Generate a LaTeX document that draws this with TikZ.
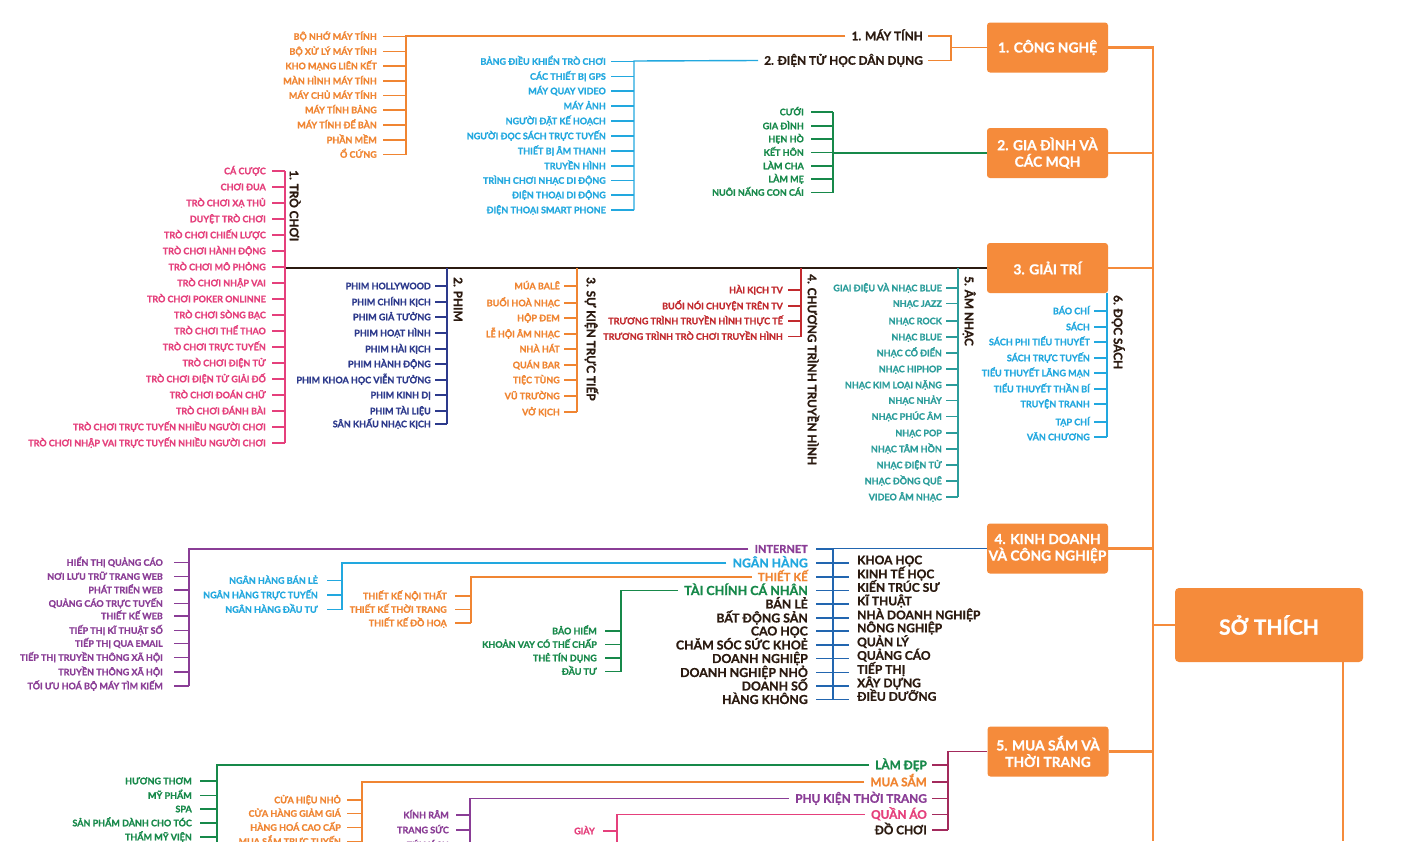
\documentclass[tikz,border=0pt]{standalone}
\usepackage{fontspec}
\setmainfont{Lato}[BoldFeatures={FakeBold=1}]
\newcommand\myfs[1]{\fontsize{#1}{#1}\selectfont\bfseries}
\definecolor{boxor}{HTML}{F58B3B}
\definecolor{orl}{HTML}{F08532}
\definecolor{bl}{HTML}{22A8DF}
\definecolor{gr}{HTML}{17894A}
\definecolor{pk}{HTML}{E5407C}
\definecolor{nv}{HTML}{2D3A8C}
\definecolor{rd}{HTML}{C22A2E}
\definecolor{tl}{HTML}{2B9D9B}
\definecolor{dk}{HTML}{2B1A10}
\definecolor{pu}{HTML}{8A3D96}
\definecolor{kb}{HTML}{2266B0}
\definecolor{cr}{HTML}{A32A5C}
\tikzset{
 lf/.style={inner sep=0pt, font=\myfs{9}, text height=6.5pt, text depth=0pt},
 hd/.style={inner sep=0pt, font=\myfs{11.8}, text height=8.5pt, text depth=0pt},
 kd/.style={inner sep=0pt, font=\myfs{12}, text height=8.6pt, text depth=0pt},
 stub/.style={line width=1.4pt},
 trunk/.style={line width=2.8pt, boxor},
 catbox/.style={fill=boxor, rounded corners=3pt, minimum width=121pt, minimum height=50pt, inner sep=0pt, text=white, font=\fontsize{13.8}{16.5}\selectfont\bfseries, align=center},
 rootbox/.style={fill=boxor, rounded corners=4pt, minimum width=188pt, minimum height=74pt, inner sep=0pt, text=white, font=\fontsize{21}{21}\selectfont\bfseries},
 rotlab/.style={inner sep=0pt, font=\myfs{11.8}, text height=8.5pt, text depth=0pt, rotate=-90, anchor=west, text=dk},
}
\newcommand\leaves[6]{%
 \foreach \yy/\tx [count=\i] in {#6}{%
  \node[lf, text=#2, anchor=east] (#1\i) at (#3,\yy) {\tx};
  \draw[stub, #2] (#1\i.east) ++({#4-#3},0) -- (#5,\yy);
 }}
\begin{document}
\begin{tikzpicture}[x=1pt,y=-1pt]
\useasboundingbox (0,0) rectangle (1402,841);
\clip (0,0) rectangle (1402,841);
\fill[white] (0,0) rectangle (1402,841);

% ---------- category boxes ----------
\node[catbox] (c1) at (1047.5,47.5) {1. CÔNG NGHỆ};
\node[catbox] (c2) at (1047.5,153) {2. GIA ĐÌNH VÀ\\CÁC MQH};
\node[catbox] (c3) at (1047.5,268) {3. GIẢI TRÍ};
\node[catbox] (c4) at (1047.5,548.5) {4. KINH DOANH\\VÀ CÔNG NGHIỆP};
\node[catbox] (c5) at (1048,751.5) {5. MUA SẮM VÀ\\THỜI TRANG};
\node[rootbox] (root) at (1269,625) {SỞ THÍCH};
\coordinate (tb) at (1153,841);
\coordinate (rb) at (1343,841);
\draw[trunk] (c1.east) -- (c1.east -| tb) -- (tb);
\draw[trunk] (c2.east) -- (c2.east -| tb);
\draw[trunk] (c3.east) -- (c3.east -| tb);
\draw[trunk] (c4.east) -- (c4.east -| tb);
\draw[trunk] (c5.east) -- (c5.east -| tb);
\draw[trunk] (root.west -| tb) -- (root.west);
\draw[trunk] (root.south -| rb) -- (rb);

% ---------- 1. CONG NGHE ----------
\node[hd, text=dk, anchor=east] (mt) at (923,36) {1. MÁY TÍNH};
\node[hd, text=dk, anchor=east] (dt) at (923,60.5) {2. ĐIỆN TỬ HỌC DÂN DỤNG};
\draw[stub, orl] ([xshift=5pt]mt.east) -- (951,36) -- (951,60.5) -- ([xshift=5pt]dt.east);
\draw[stub, orl] (951,47.5) -- (c1.west);
\draw[stub, orl] ([xshift=-6pt]mt.west) -- (406,36) -- (406,154.5);
\draw[stub, bl] ([xshift=-6pt]dt.west) -- (634,61) -- (634,210);
\leaves{mtl}{orl}{377}{383}{406}{36.5/BỘ NHỚ MÁY TÍNH, 51.5/BỘ XỬ LÝ MÁY TÍNH, 66/KHO MẠNG LIÊN KẾT, 81/MÀN HÌNH MÁY TÍNH, 95.5/MÁY CHỦ MÁY TÍNH, 110/MÁY TÍNH BẢNG, 125/MÁY TÍNH ĐỂ BÀN, 140/PHẦN MỀM, 154.5/Ổ CỨNG}
\leaves{dtl}{bl}{606}{611}{634}{61.5/BẢNG ĐIỀU KHIỂN TRÒ CHƠI, 76.5/CÁC THIẾT BỊ GPS, 91/MÁY QUAY VIDEO, 106/MÁY ẢNH, 121/NGƯỜI ĐẶT KẾ HOẠCH, 136/NGƯỜI ĐỌC SÁCH TRỰC TUYẾN, 151/THIẾT BỊ ÂM THANH, 166/TRUYỀN HÌNH, 180.5/TRÌNH CHƠI NHẠC DI ĐỘNG, 195/ĐIỆN THOẠI DI ĐỘNG, 210/ĐIỆN THOẠI SMART PHONE}

% ---------- 2. GIA DINH ----------
\draw[stub, gr] (c2.west) -- (833,153);
\draw[stub, gr] (833,112) -- (833,192.5);
\leaves{gd}{gr}{804}{811}{833}{112/CƯỚI, 126/GIA ĐÌNH, 139/HẸN HÒ, 152.5/KẾT HÔN, 166/LÀM CHA, 179/LÀM MẸ, 192.5/NUÔI NẤNG CON CÁI}

% ---------- 3. GIAI TRI ----------
\draw[line width=1.8pt, dk] (c3.west) -- (285,268);
\draw[stub, pk] (285,171) -- (285,443);
\draw[stub, nv] (447,268) -- (447,424);
\draw[stub, orl] (577,268) -- (577,412);
\draw[stub, rd] (801,268) -- (801,336.5);
\draw[stub, tl] (958,268) -- (958,497);
\draw[stub, bl] (1107,293) -- (1107,437);
\node[rotlab] (r1) at (294,170) {1. TRÒ CHƠI};
\node[rotlab] (r2) at (458,277) {2. PHIM};
\node[rotlab] (r3) at (591,277) {3. SỰ KIỆN TRỰC TIẾP};
\node[rotlab] (r4) at (812,274) {4. CHƯƠNG TRÌNH TRUYỀN HÌNH};
\node[rotlab] (r5) at (969,276) {5. ÂM NHẠC};
\node[rotlab] (r6) at (1118,295) {6. ĐỌC SÁCH};
\leaves{tc}{pk}{266}{272}{285}{171/CÁ CƯỢC, 187/CHƠI ĐUA, 203/TRÒ CHƠI XẠ THỦ, 219/DUYỆT TRÒ CHƠI, 235/TRÒ CHƠI CHIẾN LƯỢC, 251/TRÒ CHƠI HÀNH ĐỘNG, 267/TRÒ CHƠI MÔ PHỎNG, 283/TRÒ CHƠI NHẬP VAI, 299/TRÒ CHƠI POKER ONLINNE, 315/TRÒ CHƠI SÒNG BẠC, 331/TRÒ CHƠI THỂ THAO, 347/TRÒ CHƠI TRỰC TUYẾN, 363/TRÒ CHƠI ĐIỆN TỬ, 379/TRÒ CHƠI ĐIỆN TỬ GIẢI ĐỐ, 395/TRÒ CHƠI ĐOÁN CHỮ, 411/TRÒ CHƠI ĐÁNH BÀI, 427/TRÒ CHƠI TRỰC TUYẾN NHIỀU NGƯỜI CHƠI, 443/TRÒ CHƠI NHẬP VAI TRỰC TUYẾN NHIỀU NGƯỜI CHƠI}
\leaves{ph}{nv}{431}{435}{447}{286/PHIM HOLLYWOOD, 302/PHIM CHÍNH KỊCH, 317/PHIM GIẢ TƯỞNG, 333/PHIM HOẠT HÌNH, 349/PHIM HÀI KỊCH, 364/PHIM HÀNH ĐỘNG, 380/PHIM KHOA HỌC VIỄN TƯỞNG, 395/PHIM KINH DỊ, 411/PHIM TÀI LIỆU, 424/SÂN KHẤU NHẠC KỊCH}
\leaves{sk}{orl}{560}{564}{577}{286/MÚA BALÊ, 303/BUỔI HOÀ NHẠC, 318/HỘP ĐEM, 334/LỄ HỘI ÂM NHẠC, 349/NHÀ HÁT, 365/QUÁN BAR, 380/TIỆC TÙNG, 396/VŨ TRƯỜNG, 412/VỞ KỊCH}
\leaves{tv}{rd}{783}{788}{801}{290/HÀI KỊCH TV, 306/BUỔI NÓI CHUYỆN TRÊN TV, 321/TRƯƠNG TRÌNH TRUYỀN HÌNH THỰC TẾ, 336.5/TRƯƠNG TRÌNH TRÒ CHƠI TRUYỀN HÌNH}
\leaves{an}{tl}{942}{946}{958}{288/GIAI ĐIỆU VÀ NHẠC BLUE, 303.5/NHẠC JAZZ, 321/NHẠC ROCK, 337/NHẠC BLUE, 353/NHẠC CỔ ĐIỂN, 369/NHẠC HIPHOP, 385/NHẠC KIM LOẠI NẶNG, 400.5/NHẠC NHẢY, 416.5/NHẠC PHÚC ÂM, 433/NHẠC POP, 449/NHẠC TÂM HỒN, 465/NHẠC ĐIỆN TỬ, 481/NHẠC ĐỒNG QUÊ, 497/VIDEO ÂM NHẠC}
\leaves{ds}{bl}{1090}{1094}{1107}{311/BÁO CHÍ, 327/SÁCH, 342/SÁCH PHI TIỂU THUYẾT, 358/SÁCH TRỰC TUYẾN, 373/TIỂU THUYẾT LÃNG MẠN, 389/TIỂU THUYẾT THẦN BÍ, 404/TRUYỆN TRANH, 422/TẠP CHÍ, 437/VĂN CHƯƠNG}

% ---------- 4. KINH DOANH ----------
\draw[line width=1.8pt, kb] (c4.west) -- (833,548.5) -- (833,699.5);
\foreach \yy/\c/\f/\h/\tx [count=\i] in {549/pu/11/7.9/INTERNET, 563/bl/12.2/8.8/NGÂN HÀNG, 577/orl/11.5/8.3/THIẾT KẾ, 590.5/gr/12.5/9/TÀI CHÍNH CÁ NHÂN, 604/dk/12.3/8.9/BÁN LẺ, 618/dk/12.3/8.9/BẤT ĐỘNG SẢN, 631/dk/12.3/8.9/CAO HỌC, 645/dk/12.3/8.9/CHĂM SÓC SỨC KHOẺ, 658.5/dk/12.3/8.9/DOANH NGHIỆP, 672.5/dk/12.3/8.9/DOANH NGHIỆP NHỎ, 686/dk/12.3/8.9/DOANH SỐ, 699.5/dk/12.3/8.9/HÀNG KHÔNG}{%
 \node[inner sep=0pt, font=\myfs{\f}, text height=\h pt, text depth=0pt, text=\c, anchor=east] (kl\i) at (808,\yy) {\tx};
 \draw[stub, kb] (kl\i.east) ++(8,0) -- (833,\yy);
}
\foreach \yy/\tx [count=\i] in {563/KHOA HỌC, 577/KINH TẾ HỌC, 590.5/KIẾN TRÚC SƯ, 604/KĨ THUẬT, 618/NHÀ DOANH NGHIỆP, 631/NÔNG NGHIỆP, 645/QUẢN LÝ, 658.5/QUẢNG CÁO, 672.5/TIẾP THỊ, 686/XÂY DỰNG, 699.5/ĐIỀU DƯỠNG}{%
 \coordinate (kj\i) at (833,\yy);
 \node[kd, text=dk, anchor=west] (kr\i) at (857,\yy-3) {\tx};
 \draw[stub, kb] (kj\i) -- (849,\yy);
}
\draw[stub, pu] ([xshift=-6pt]kl1.west) -- (189,549) -- (189,686);
\draw[stub, bl] ([xshift=-6pt]kl2.west) -- (342,563) -- (342,609.5);
\draw[stub, orl] ([xshift=-6pt]kl3.west) -- (471,577) -- (471,623);
\draw[stub, gr] ([xshift=-6pt]kl4.west) -- (621,590.5) -- (621,671.5);
\leaves{qc}{pu}{163}{174}{189}{562.5/HIỂN THỊ QUẢNG CÁO, 576.5/NƠI LƯU TRỮ TRANG WEB, 590/PHÁT TRIỂN WEB, 603.5/QUẢNG CÁO TRỰC TUYẾN, 616/THIẾT KẾ WEB, 630.5/TIẾP THỊ KĨ THUẬT SỐ, 643.5/TIẾP THỊ QUA EMAIL, 657.5/TIẾP THỊ TRUYỀN THÔNG XÃ HỘI, 672/TRUYỀN THÔNG XÃ HỘI, 686/TỐI ƯU HOÁ BỘ MÁY TÌM KIẾM}
\leaves{nh}{bl}{318}{327}{342}{580.5/NGÂN HÀNG BÁN LẺ, 595/NGÂN HÀNG TRỰC TUYẾN, 609.5/NGÂN HÀNG ĐẦU TƯ}
\leaves{tk}{orl}{447}{455}{471}{596/THIẾT KẾ NỘI THẤT, 609.5/THIẾT KẾ THỜI TRANG, 623/THIẾT KẾ ĐỒ HOẠ}
\leaves{tn}{gr}{597}{605}{621}{631/BẢO HIỂM, 644.5/KHOẢN VAY CÓ THẾ CHẤP, 658/THẺ TÍN DỤNG, 671.5/ĐẦU TƯ}

% ---------- 5. MUA SAM ----------
\draw[stub, cr] (c5.west) -- (948,751.5) -- (948,830);
\foreach \yy/\c/\tx [count=\i] in {765/gr/LÀM ĐẸP, 782/orl/MUA SẮM, 798.5/pu/PHỤ KIỆN THỜI TRANG, 814.5/pk/QUẦN ÁO, 830/dk/ĐỒ CHƠI}{%
 \node[hd, text=\c, anchor=east] (ms\i) at (927,\yy) {\tx};
 \draw[stub, cr] (ms\i.east) ++(5,0) -- (948,\yy);
}
\draw[stub, gr] ([xshift=-6pt]ms1.west) -- (217,765) -- (217,850);
\draw[stub, orl] ([xshift=-6pt]ms2.west) -- (362,782) -- (362,850);
\draw[stub, pu] ([xshift=-6pt]ms3.west) -- (470,798.5) -- (470,850);
\draw[stub, pk] ([xshift=-6pt]ms4.west) -- (617,814.5) -- (617,850);
\leaves{ld}{gr}{192}{200}{217}{781/HƯƠNG THƠM, 795.5/MỸ PHẨM, 809/SPA, 823/SẢN PHẨM DÀNH CHO TÓC, 837/THẨM MỸ VIỆN}
\leaves{mss}{orl}{341}{347}{362}{800/CỬA HIỆU NHỎ, 813.5/CỬA HÀNG GIẢM GIÁ, 827.5/HÀNG HOÁ CAO CẤP, 841.5/MUA SẮM TRỰC TUYẾN}
\leaves{pkl}{pu}{449}{456}{470}{815/KÍNH RÂM, 830/TRANG SỨC, 845/TÚI XÁCH}
\leaves{qa}{pk}{595}{603}{617}{831/GIÀY}
\end{tikzpicture}
\end{document}
